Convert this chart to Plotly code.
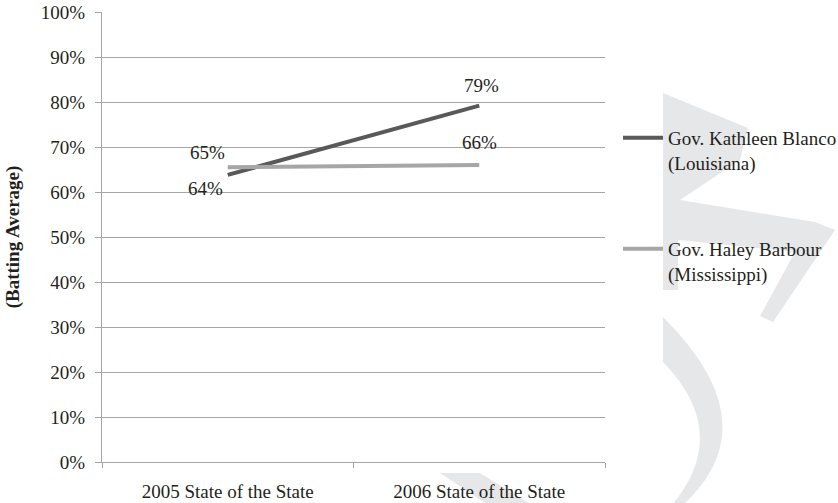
import plotly.graph_objects as go

# ---- data ----
categories = ["2005 State of the State", "2006 State of the State"]
blanco_name = "Gov. Kathleen Blanco<br>(Louisiana)"
blanco_vals = [0.638, 0.792]
blanco_labels = ["64%", "79%"]
barbour_name = "Gov. Haley Barbour<br>(Mississippi)"
barbour_vals = [0.655, 0.660]
barbour_labels = ["65%", "66%"]
y_ticks = [i / 10 for i in range(11)]
y_title = "(Batting Average)"

# ---- layout helpers ----
W, H = 838, 503
L, R, T, B = 102, 233, 12, 41
PW, PH = W - L - R, H - T - B
FONT = "'Liberation Serif', 'Times New Roman', Times, serif"
TXT = "#231f20"
GRID = "#a6a6a6"


def px(x):
    return (x - L) / PW


def py(y):
    return (H - B - y) / PH


fig = go.Figure()

fig.add_trace(go.Scatter(
    x=categories, y=blanco_vals, name=blanco_name, mode="lines",
    line=dict(color="#595959", width=4), legend="legend", hoverinfo="skip"))
fig.add_trace(go.Scatter(
    x=categories, y=barbour_vals, name=barbour_name, mode="lines",
    line=dict(color="#a6a6a6", width=4), legend="legend2", hoverinfo="skip"))

# data labels
annotations = []
offs_blanco = [(-22, -14), (2, 20)]
offs_barbour = [(-20, 15), (0, 23)]
for cat, v, lab, (dx, dy) in zip(categories, blanco_vals, blanco_labels, offs_blanco):
    annotations.append(dict(x=cat, y=v, text=lab, showarrow=False, xshift=dx, yshift=dy,
                            font=dict(family=FONT, size=19, color=TXT)))
for cat, v, lab, (dx, dy) in zip(categories, barbour_vals, barbour_labels, offs_barbour):
    annotations.append(dict(x=cat, y=v, text=lab, showarrow=False, xshift=dx, yshift=dy,
                            font=dict(family=FONT, size=19, color=TXT)))


# faint background watermark (scan artefact)
def path(points):
    s = "M " + " L ".join(f"{px(x):.4f},{py(y):.4f}" for x, y in points) + " Z"
    return s


wm = "#e6e7e8"
shapes = []
shapes.append(dict(type="path", xref="paper", yref="paper", layer="below", line_width=0,
                   fillcolor=wm,
                   path=path([(663, 93), (748, 128), (740, 160), (680, 200), (815, 222),
                              (835, 230), (773, 322), (760, 316), (795, 252), (678, 240),
                              (678, 290), (663, 290)])))
shapes.append(dict(type="path", xref="paper", yref="paper", layer="below", line_width=0,
                   fillcolor=wm,
                   path=(f"M {px(663):.4f},{py(317):.4f} Q {px(771):.4f},{py(424):.4f} {px(683):.4f},{py(505):.4f} "
                         f"L {px(672):.4f},{py(505):.4f} Q {px(732):.4f},{py(433):.4f} {px(663):.4f},{py(362):.4f} Z")))
shapes.append(dict(type="path", xref="paper", yref="paper", layer="below", line_width=0,
                   fillcolor=wm,
                   path=path([(440, 473), (480, 473), (532, 505), (488, 505)])))

legend_common = dict(font=dict(family=FONT, size=19, color=TXT), bgcolor="rgba(0,0,0,0)",
                     borderwidth=0, xanchor="left", yanchor="top", valign="top",
                     itemwidth=40, itemclick=False, itemdoubleclick=False)

fig.update_layout(
    width=W, height=H,
    margin=dict(l=L, r=R, t=T, b=B, autoexpand=False),
    paper_bgcolor="white", plot_bgcolor="rgba(0,0,0,0)",
    font=dict(family=FONT, size=19, color=TXT),
    showlegend=True,
    legend=dict(x=px(618), y=py(119), **legend_common),
    legend2=dict(x=px(618), y=py(230), **legend_common),
    annotations=annotations,
    shapes=shapes,
    xaxis=dict(type="category", range=[-0.5, 1.5], showgrid=False, showline=True,
               linecolor=GRID, linewidth=1, ticks="outside", tickson="boundaries",
               ticklen=5, tickcolor=GRID, ticklabelstandoff=12,
               tickfont=dict(family=FONT, size=19, color=TXT), fixedrange=True),
    yaxis=dict(range=[0, 1], tickvals=y_ticks, tickformat=".0%", showgrid=True,
               gridcolor=GRID, gridwidth=1, showline=True, linecolor=GRID, linewidth=1,
               ticks="outside", ticklen=6, tickcolor=GRID, ticklabelstandoff=6,
               zeroline=False, tickfont=dict(family=FONT, size=19, color=TXT),
               title=dict(text="<b>" + y_title + "</b>", standoff=16,
                          font=dict(family=FONT, size=19, color=TXT)),
               fixedrange=True),
)

fig.write_html("out.html", config={"displayModeBar": False})
